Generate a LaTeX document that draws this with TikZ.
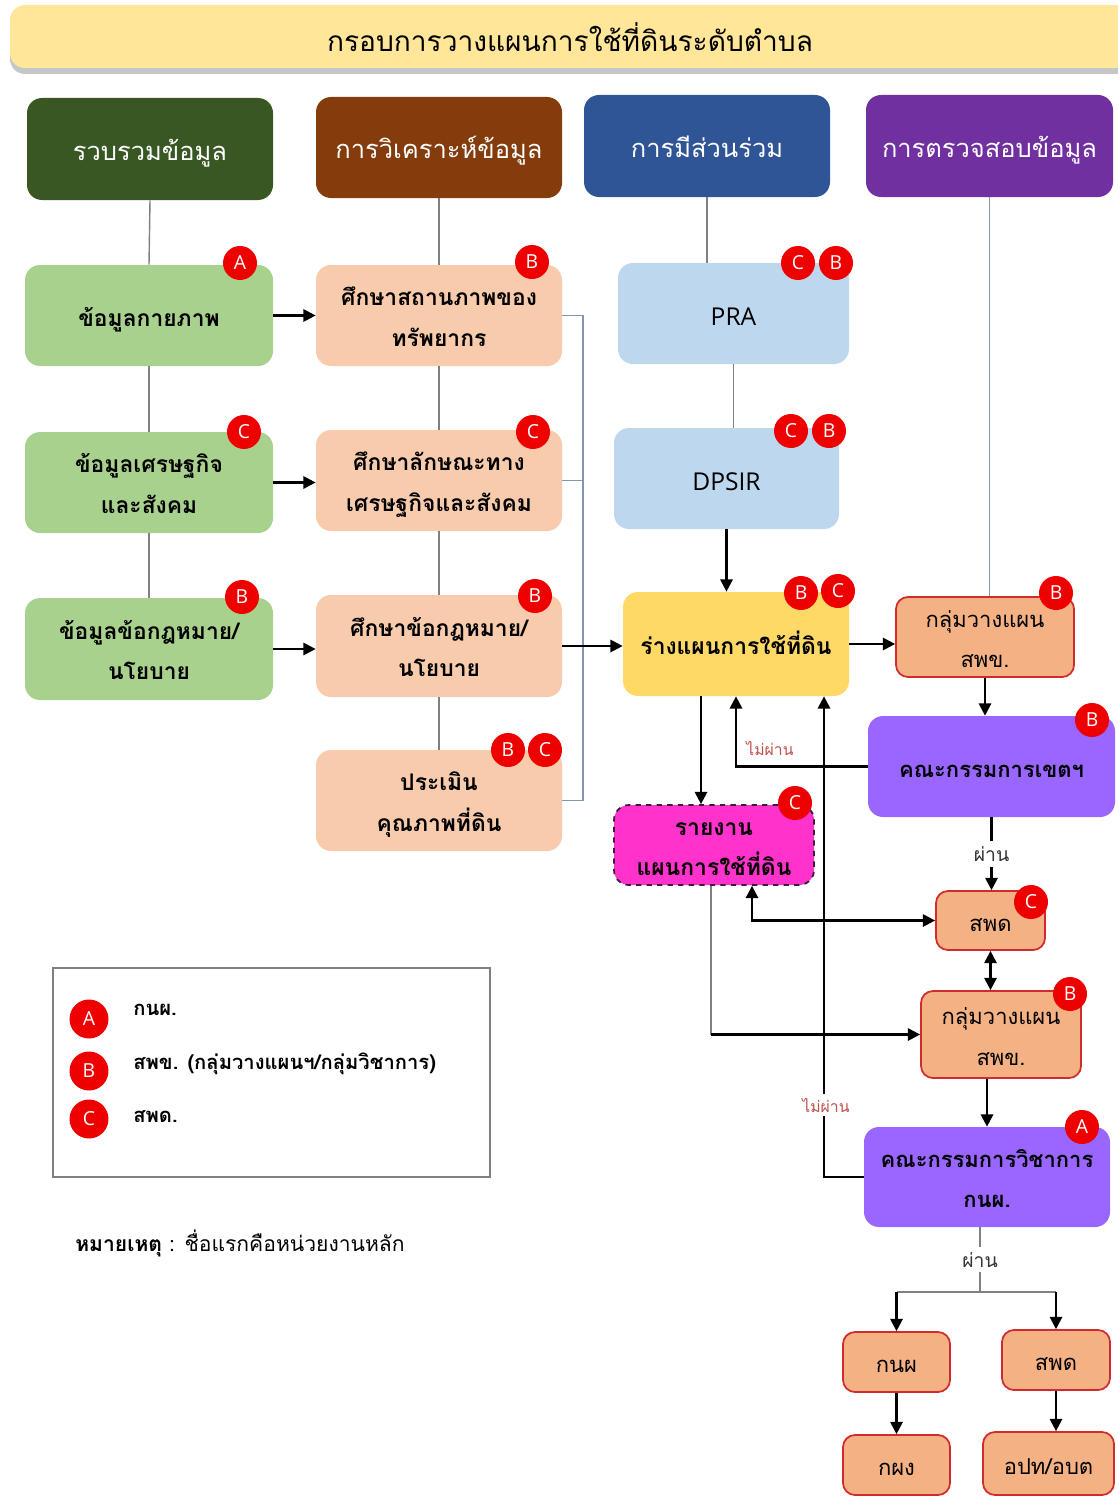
\documentclass[tikz,border=0pt]{standalone}
\usepackage{fontspec}
\setmainfont{Open Sans}
\newfontfamily\thai[Script=Thai]{Loma}
\usetikzlibrary{arrows.meta,fit,shadows}

\definecolor{titlebg}{HTML}{FFE699}
\definecolor{hgreen}{HTML}{385723}
\definecolor{hbrown}{HTML}{843C0C}
\definecolor{hblue}{HTML}{2F5597}
\definecolor{hpurple}{HTML}{7030A0}
\definecolor{lgreen}{HTML}{A9D18E}
\definecolor{peach}{HTML}{F8CBAD}
\definecolor{lblue}{HTML}{BDD7EE}
\definecolor{gold}{HTML}{FFD966}
\definecolor{lavender}{HTML}{9966FF}
\definecolor{magentabox}{HTML}{FF33CC}
\definecolor{darkpurple}{HTML}{3F1A3A}
\definecolor{orangebox}{HTML}{F4B183}
\definecolor{boxred}{HTML}{D02C2C}
\definecolor{badgered}{HTML}{EE0000}
\definecolor{failred}{HTML}{C0504D}
\definecolor{bracketgray}{HTML}{8497B0}

\tikzset{
  sz/.style 2 args={minimum width=#1*0.02cm, minimum height=#2*0.02cm},
  box/.style={rounded corners=0.3cm, inner sep=0pt, align=center, text depth=0pt},
  twoline/.style={text height=35pt},
  headbox/.style={box, text=white, text height=13pt, font=\thai\fontsize{14.5}{18}\selectfont},
  databox/.style={box, fill=#1, text height=12.5pt, font=\thai\bfseries\fontsize{13}{23}\selectfont},
  latinbox/.style={box, fill=#1, text height=14pt, font=\fontsize{14}{16}\selectfont},
  unitbox/.style={box, rounded corners=0.24cm, fill=orangebox, draw=boxred,
    line width=1pt, text height=12.3pt, font=\thai\fontsize{12.5}{23}\selectfont},
  badge/.style={circle, fill=badgered, text=white, inner sep=0pt,
    minimum size=0.68cm, font=\fontsize{11}{11}\selectfont},
  legtxt/.style={anchor=west, inner sep=0pt, font=\thai\fontsize{12}{14}\selectfont},
  gline/.style={draw=gray, line width=0.8pt},
  bline/.style={draw=bracketgray, line width=0.8pt},
  arr/.style={-{Triangle[length=7pt,width=7pt]}, line width=1.3pt},
  arrs/.style={{Triangle[length=7pt,width=7pt]}-{Triangle[length=7pt,width=7pt]}, line width=1.3pt},
  failtxt/.style={text=failred, inner sep=2pt, font=\thai\fontsize{9}{10}\selectfont},
  passtxt/.style={text=gray!40!black, fill=white, inner sep=3pt, font=\thai\fontsize{11}{12}\selectfont},
}

\begin{document}
\begin{tikzpicture}[x=0.02cm, y=-0.02cm]
\useasboundingbox (0,0) rectangle (1117,1497);

\node[box, fill=titlebg, sz={1120}{63}, drop shadow={opacity=0.45, shadow xshift=0pt, shadow yshift=-0.12cm},
  text height=17pt, font=\thai\fontsize{16}{20}\selectfont] (title) at (570,36.5) {กรอบการวางแผนการใช้ที่ดินระดับตำบล};

% headers
\node[headbox, fill=hgreen, sz={246}{102}] (h1) at (150,149) {รวบรวมข้อมูล};
\node[headbox, fill=hbrown, sz={246}{101}] (h2) at (439,147.5) {การวิเคราะห์ข้อมูล};
\node[headbox, fill=hblue, sz={246}{102}] (h3) at (707,146) {การมีส่วนร่วม};
\node[headbox, fill=hpurple, sz={247}{102}] (h4) at (989.5,146) {การตรวจสอบข้อมูล};

% data
\node[databox=lgreen, sz={248}{101}] (g1) at (149,315.5) {ข้อมูลกายภาพ};
\node[databox=lgreen, twoline, sz={248}{101}] (g2) at (149,482.5) {ข้อมูลเศรษฐกิจ\\และสังคม};
\node[databox=lgreen, twoline, sz={248}{102}] (g3) at (149,649) {ข้อมูลข้อกฎหมาย/\\นโยบาย};

\node[databox=peach, twoline, sz={246}{101}] (p1) at (439,315.5) {ศึกษาสถานภาพของ\\ทรัพยากร};
\node[databox=peach, twoline, sz={246}{101}] (p2) at (439,480.5) {ศึกษาลักษณะทาง\\เศรษฐกิจและสังคม};
\node[databox=peach, twoline, sz={246}{102}] (p3) at (439,646) {ศึกษาข้อกฎหมาย/\\นโยบาย};
\node[databox=peach, twoline, sz={246}{101}] (p4) at (439,800.5) {ประเมิน\\คุณภาพที่ดิน};

\node[latinbox=lblue, sz={231}{101}] (pra) at (733.5,313.5) {PRA};
\node[latinbox=lblue, sz={225}{101}] (dps) at (726.5,478.5) {DPSIR};
\node[databox=gold, sz={226}{104}] (draft) at (736,644) {ร่างแผนการใช้ที่ดิน};
\node[databox=magentabox, twoline, draw=darkpurple, dashed, line width=1pt, sz={200}{80}] (rpt) at (714,845) {รายงาน\\แผนการใช้ที่ดิน};

% checks
\node[unitbox, twoline, sz={178}{80}] (grp1) at (985,637) {กลุ่มวางแผน\\สพข.};
\node[databox=lavender, sz={247}{101}, font=\thai\bfseries\fontsize{12.5}{23}\selectfont] (cz) at (991.5,766.5) {คณะกรรมการเขตฯ};
\node[unitbox, sz={109}{59}] (sd1) at (990.5,920.5) {สพด};
\node[unitbox, twoline, sz={160}{87}] (grp2) at (1001,1034.5) {กลุ่มวางแผน\\สพข.};
\node[databox=lavender, twoline, sz={246}{100}, font=\thai\bfseries\fontsize{12.5}{23}\selectfont] (cv) at (987,1177) {คณะกรรมการวิชาการ\\กนผ.};
\node[unitbox, sz={107}{60}] (k1) at (896.5,1362) {กนผ};
\node[unitbox, sz={108}{60}] (k2) at (1056,1360) {สพด};
\node[unitbox, sz={107}{60}] (k3) at (896.5,1465) {กผง};
\node[unitbox, sz={131}{63}] (k4) at (1048.5,1463.5) {อปท/อบต};

\foreach \x/\y/\t [count=\i] in {240/263/A, 532/262/B, 244/432/C, 533/432/C, 242/597/B,
  535/596/B, 508/750/B, 545/750/C, 798/263/C, 836/263/B, 791/431/C, 829/431/B,
  801/593/B, 838/591/C, 1056/593/B, 1092/720/B, 795/803/C, 1031/902/C, 1070/994/B, 1082/1127/A}
  \node[badge] (bd\i) at (\x,\y) {\t};

% plain links
\draw[gline] (h1.south) -- (g1.north);
\draw[gline] (g1.south) -- (g2.north);
\draw[gline] (g2.south) -- (g3.north);
\draw[gline] (h2.south) -- (p1.north);
\draw[gline] (p1.south) -- (p2.north);
\draw[gline] (p2.south) -- (p3.north);
\draw[gline] (p3.south) -- (p4.north);
\draw[gline] (h3.south) -- (h3.south |- pra.north);
\draw[gline] (pra.south) -- (pra.south |- dps.north);
\draw[bline] (h4.south) -- (h4.south |- grp1.north);

\coordinate (bx) at (583,0);
\draw[bline] (p1.east) -- (p1.east -| bx) -- (p4.east -| bx) -- (p4.east);
\draw[bline] (p2.east) -- (p2.east -| bx);

% arrows
\draw[arr] (g1.east) -- (g1.east -| p1.west);
\draw[arr] (g2.east) -- (g2.east -| p2.west);
\draw[arr] (g3.east) -- (g3.east -| p3.west);
\draw[arr] (p3.east) -- (p3.east -| draft.west);
\draw[arr] (dps.south) -- (dps.south |- draft.north);
\draw[arr] (draft.east) -- (draft.east -| grp1.west);
\draw[arr] (grp1.south) -- (grp1.south |- cz.north);

\draw[arr] (cz.west) -| (draft.south);
\node[failtxt] (np1) at (770,748) {ไม่ผ่าน};
\draw[arr] (cz.south) -- node[passtxt] (ok1) {ผ่าน} (cz.south |- sd1.north);

\coordinate (c1) at (701,0);
\coordinate (c2) at (752,0);
\coordinate (c3) at (711,0);
\coordinate (c4) at (824,0);
\draw[arr] (draft.south -| c1) -- (rpt.north -| c1);
\draw[arrs] (sd1.west) -| (rpt.south -| c2);
\draw[arrs] (sd1.south) -- (sd1.south |- grp2.north);
\draw[gline] (rpt.south -| c3) -- (grp2.west -| c3);
\draw[arr] (grp2.west -| c3) -- (grp2.west);
\draw[arr] (cv.north |- grp2.south) -- (cv.north);

\draw[arr] (cv.west) -| (draft.south -| c4);
\node[failtxt, fill=white] (np2) at (826,1105) {ไม่ผ่าน};

\coordinate (sp) at (980,1292);
\draw[gline] (cv.south -| sp) -- node[passtxt] (ok2) {ผ่าน} (sp);
\draw[gline] (k1.north |- sp) -- (k2.north |- sp);
\draw[arr] (k1.north |- sp) -- (k1.north);
\draw[arr] (k2.north |- sp) -- (k2.north);
\draw[arr] (k1.south) -- (k3.north);
\draw[arr] (k2.south) -- (k2.south |- k4.north);

% legend
\node[draw=gray, line width=0.8pt, inner sep=0pt, fit={(53,968) (490,1177)}] (legend) {};
\node[badge, minimum size=0.78cm] (lgA) at (89,1019) {A};
\node[badge, minimum size=0.78cm] (lgB) at (89,1071) {B};
\node[badge, minimum size=0.78cm] (lgC) at (89,1119) {C};
\node[legtxt, font=\thai\bfseries\fontsize{11.5}{14}\selectfont] (ltA) at (133,1010) {กนผ.};
\node[legtxt, font=\thai\bfseries\fontsize{11.5}{14}\selectfont] (ltB) at (133,1064) {สพข. (กลุ่มวางแผนฯ/กลุ่มวิชาการ)};
\node[legtxt, font=\thai\bfseries\fontsize{11.5}{14}\selectfont] (ltC) at (133,1117) {สพด.};
\node[legtxt] (note) at (75,1243) {{\bfseries หมายเหตุ} : ชื่อแรกคือหน่วยงานหลัก};
\end{tikzpicture}
\end{document}
